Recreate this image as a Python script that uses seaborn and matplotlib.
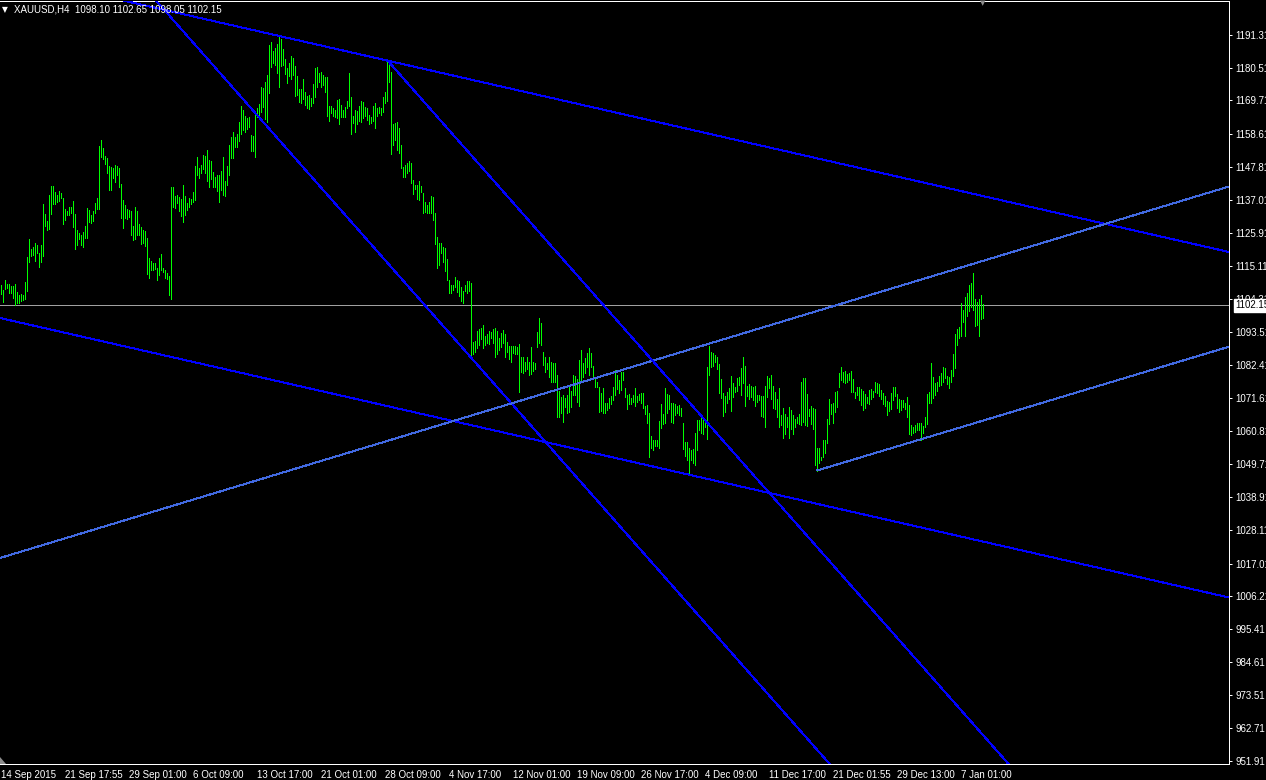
import matplotlib
matplotlib.use("Agg")
import matplotlib.pyplot as plt
import matplotlib.transforms as mtransforms
from matplotlib.patches import Polygon
import numpy as np
import pandas as pd
import seaborn as sns

# ---------------- data ----------------
symbol = "XAUUSD,H4"
last_bar = [1098.10, 1102.65, 1098.05, 1102.15]  # open, high, low, close of last bar
current_price = 1102.15

highs = [
    1108.9, 1107.3, 1110.5, 1109.2, 1109.2, 1108.6, 1108.6, 1109.2, 1106.5, 1105.7,
    1105.9, 1105.6, 1109.9, 1118.1, 1124.1, 1120.8, 1121.4, 1122.6, 1121.9, 1119.4,
    1122.0, 1135.6, 1132.3, 1130.1, 1138.6, 1141.5, 1141.5, 1139.6, 1138.6, 1139.9,
    1139.2, 1137.4, 1134.0, 1133.4, 1134.5, 1134.6, 1136.6, 1132.3, 1127.0, 1126.0,
    1125.4, 1126.5, 1128.2, 1134.2, 1133.6, 1131.9, 1133.2, 1135.9, 1137.6, 1154.7,
    1156.7, 1154.1, 1151.4, 1150.8, 1148.0, 1147.9, 1147.5, 1148.5, 1148.1, 1147.5,
    1142.2, 1136.9, 1135.3, 1134.0, 1133.6, 1133.3, 1128.4, 1134.6, 1133.3, 1129.0,
    1128.0, 1127.0, 1126.7, 1124.4, 1117.8, 1116.8, 1116.2, 1116.2, 1114.5, 1117.8,
    1119.1, 1114.5, 1113.8, 1112.9, 1111.9, 1141.2, 1141.2, 1138.2, 1138.6, 1137.9,
    1137.3, 1141.9, 1138.2, 1135.9, 1137.6, 1137.3, 1139.6, 1148.1, 1151.1, 1147.5,
    1148.5, 1151.8, 1151.4, 1153.4, 1150.1, 1149.8, 1146.2, 1144.5, 1145.2, 1145.2,
    1146.5, 1151.1, 1143.2, 1148.1, 1155.1, 1157.7, 1159.3, 1157.7, 1158.7, 1162.5,
    1167.9, 1166.6, 1164.6, 1163.8, 1164.2, 1158.2, 1158.0, 1165.7, 1167.1, 1168.6,
    1174.3, 1173.7, 1175.9, 1178.1, 1188.0, 1189.1, 1186.1, 1186.9, 1188.3, 1191.0,
    1189.9, 1186.6, 1183.3, 1180.3, 1182.2, 1184.4, 1183.6, 1181.1, 1177.8, 1173.4,
    1173.4, 1176.7, 1172.6, 1171.2, 1171.5, 1170.4, 1175.2, 1180.3, 1180.9, 1178.7,
    1179.2, 1178.1, 1177.4, 1177.6, 1167.9, 1167.9, 1167.1, 1166.6, 1169.9, 1170.1,
    1168.2, 1166.6, 1167.5, 1169.7, 1178.9, 1171.0, 1164.6, 1166.6, 1166.4, 1167.9,
    1169.7, 1169.3, 1167.5, 1167.1, 1164.9, 1164.2, 1167.9, 1168.8, 1167.1, 1167.5,
    1167.1, 1171.0, 1172.6, 1182.5, 1182.8, 1179.2, 1162.0, 1162.2, 1162.7, 1160.5,
    1155.0, 1147.7, 1148.4, 1149.0, 1149.9, 1149.2, 1143.5, 1141.9, 1141.9, 1143.0,
    1141.5, 1139.1, 1136.4, 1135.3, 1136.4, 1138.2, 1137.8, 1132.7, 1124.6, 1122.8,
    1122.6, 1121.3, 1121.0, 1117.3, 1110.5, 1108.9, 1108.9, 1111.4, 1110.5, 1110.3,
    1108.3, 1107.0, 1108.9, 1110.3, 1110.3, 1109.4, 1090.2, 1090.5, 1093.8, 1094.3,
    1094.6, 1095.7, 1092.1, 1092.7, 1093.8, 1093.5, 1094.3, 1094.6, 1093.8, 1091.3,
    1093.0, 1094.0, 1092.7, 1090.2, 1088.8, 1088.8, 1088.8, 1088.8, 1088.3, 1089.4,
    1085.0, 1085.0, 1083.6, 1085.0, 1083.6, 1088.3, 1083.6, 1083.0, 1093.5, 1097.9,
    1096.5, 1086.9, 1085.0, 1083.0, 1085.2, 1083.6, 1083.0, 1083.3, 1079.2, 1074.0,
    1071.8, 1072.6, 1071.5, 1072.6, 1075.1, 1074.0, 1079.2, 1078.9, 1077.8, 1084.1,
    1087.4, 1083.0, 1084.7, 1086.6, 1088.0, 1086.6, 1082.2, 1077.8, 1077.0, 1075.1,
    1073.2, 1074.8, 1070.1, 1070.1, 1071.5, 1072.3, 1075.3, 1080.9, 1079.2, 1077.6,
    1080.3, 1080.3, 1074.8, 1072.6, 1072.9, 1071.5, 1072.6, 1074.8, 1072.3, 1072.9,
    1073.4, 1073.4, 1069.0, 1069.3, 1066.5, 1059.1, 1057.8, 1057.8, 1057.8, 1064.1,
    1069.6, 1066.3, 1074.8, 1072.9, 1072.6, 1069.9, 1070.1, 1069.6, 1069.0, 1069.3,
    1068.2, 1063.5, 1057.2, 1057.2, 1055.0, 1054.5, 1054.7, 1060.0, 1064.4, 1064.4,
    1065.2, 1064.9, 1063.8, 1081.7, 1088.8, 1086.9, 1086.4, 1085.8, 1085.0, 1082.8,
    1077.8, 1073.2, 1072.3, 1073.7, 1074.8, 1078.9, 1076.7, 1075.1, 1078.1, 1078.4,
    1081.4, 1085.0, 1082.2, 1075.6, 1076.2, 1075.6, 1075.1, 1075.6, 1072.6, 1072.6,
    1072.3, 1072.3, 1075.6, 1078.9, 1078.1, 1079.2, 1075.6, 1073.7, 1071.2, 1074.8,
    1066.0, 1068.2, 1066.3, 1065.2, 1068.5, 1067.7, 1066.0, 1064.6, 1065.5, 1066.3,
    1077.0, 1078.1, 1078.1, 1072.9, 1067.9, 1069.0, 1068.2, 1067.9, 1055.0, 1055.0,
    1052.3, 1057.8, 1057.6, 1064.6, 1071.2, 1069.7, 1070.1, 1073.7, 1074.0, 1080.0,
    1081.7, 1080.3, 1080.6, 1079.5, 1080.0, 1080.6, 1077.8, 1073.7, 1075.4, 1075.1,
    1074.5, 1074.0, 1072.9, 1071.8, 1074.3, 1074.5, 1074.0, 1077.0, 1076.7, 1076.2,
    1074.3, 1073.4, 1072.3, 1070.7, 1070.4, 1073.4, 1075.4, 1075.1, 1072.9, 1071.2,
    1071.0, 1071.0, 1070.1, 1072.1, 1069.3, 1062.7, 1061.9, 1062.7, 1063.3, 1063.3,
    1063.5, 1062.4, 1065.5, 1072.9, 1073.7, 1083.0, 1078.4, 1076.7, 1077.0, 1078.9,
    1080.0, 1081.7, 1081.4, 1078.9, 1078.4, 1080.9, 1086.1, 1092.7, 1094.3, 1095.1,
    1102.8, 1100.6, 1104.8, 1106.3, 1108.9, 1109.6, 1112.7, 1104.2, 1103.4, 1104.2,
    1105.6, 1102.65,
]

lows = [
    1105.9, 1103.4, 1107.5, 1107.8, 1106.2, 1106.2, 1104.5, 1102.3, 1103.1, 1103.1,
    1103.7, 1104.0, 1104.3, 1106.9, 1116.6, 1118.5, 1118.8, 1116.9, 1119.3, 1114.9,
    1116.6, 1118.5, 1128.4, 1127.0, 1127.5, 1132.3, 1135.6, 1135.6, 1136.4, 1136.7,
    1137.6, 1129.0, 1130.3, 1132.0, 1132.1, 1132.5, 1128.0, 1120.9, 1122.0, 1124.1,
    1122.1, 1121.4, 1124.3, 1124.5, 1129.7, 1129.2, 1130.0, 1132.7, 1133.8, 1134.0,
    1151.2, 1150.3, 1148.8, 1145.9, 1140.2, 1140.2, 1144.0, 1142.7, 1145.1, 1141.3,
    1131.0, 1127.7, 1131.1, 1130.5, 1131.2, 1125.4, 1123.7, 1124.2, 1125.4, 1125.4,
    1122.4, 1122.7, 1121.8, 1112.5, 1111.2, 1113.8, 1113.8, 1114.2, 1110.5, 1112.2,
    1113.8, 1113.1, 1111.2, 1110.9, 1105.6, 1104.3, 1134.6, 1134.3, 1136.0, 1133.3,
    1131.6, 1129.7, 1132.0, 1133.6, 1134.6, 1135.6, 1136.3, 1136.9, 1145.2, 1144.2,
    1145.7, 1147.0, 1145.7, 1143.2, 1141.2, 1143.8, 1141.2, 1141.2, 1139.9, 1136.3,
    1140.2, 1138.6, 1138.2, 1141.9, 1145.2, 1150.8, 1150.8, 1154.5, 1154.5, 1156.2,
    1158.7, 1160.0, 1159.4, 1160.2, 1161.1, 1152.9, 1152.9, 1151.2, 1164.2, 1164.6,
    1166.0, 1167.7, 1163.5, 1162.7, 1172.3, 1180.9, 1182.0, 1181.4, 1178.9, 1174.1,
    1181.1, 1181.4, 1178.5, 1175.4, 1177.8, 1176.7, 1178.1, 1171.2, 1171.5, 1169.3,
    1168.8, 1170.1, 1168.2, 1167.1, 1166.8, 1167.9, 1169.0, 1171.0, 1174.3, 1175.9,
    1174.1, 1174.8, 1172.6, 1164.6, 1163.1, 1165.5, 1164.6, 1164.2, 1163.8, 1162.0,
    1164.2, 1164.2, 1164.2, 1167.1, 1167.9, 1158.6, 1162.2, 1159.4, 1162.0, 1163.1,
    1162.7, 1163.8, 1164.6, 1163.3, 1162.0, 1162.4, 1163.1, 1160.5, 1164.6, 1165.5,
    1164.9, 1166.0, 1168.8, 1169.5, 1175.9, 1152.1, 1155.0, 1156.7, 1153.4, 1152.3,
    1147.4, 1144.4, 1144.4, 1145.7, 1146.3, 1142.4, 1138.9, 1140.4, 1137.1, 1136.9,
    1139.7, 1132.5, 1133.1, 1132.5, 1132.7, 1132.5, 1130.3, 1122.4, 1114.4, 1115.5,
    1119.5, 1116.6, 1113.6, 1110.5, 1106.1, 1106.1, 1107.2, 1108.1, 1106.7, 1105.3,
    1103.7, 1102.8, 1107.0, 1106.1, 1107.0, 1085.2, 1086.1, 1086.9, 1088.0, 1089.1,
    1091.0, 1088.0, 1089.1, 1089.9, 1089.4, 1091.3, 1089.9, 1085.0, 1086.1, 1087.4,
    1088.3, 1089.9, 1085.0, 1086.9, 1084.4, 1083.6, 1086.6, 1086.1, 1086.1, 1073.7,
    1080.3, 1080.0, 1080.6, 1081.1, 1079.2, 1079.5, 1080.6, 1081.1, 1088.5, 1089.9,
    1089.1, 1082.5, 1080.3, 1081.1, 1078.6, 1077.0, 1077.0, 1077.0, 1065.2, 1065.2,
    1066.5, 1063.8, 1068.8, 1066.5, 1067.1, 1068.8, 1072.6, 1072.6, 1070.4, 1069.0,
    1077.6, 1078.6, 1079.7, 1081.7, 1079.2, 1081.9, 1078.1, 1075.3, 1075.3, 1067.1,
    1067.4, 1066.5, 1066.8, 1067.7, 1068.2, 1069.6, 1071.0, 1072.6, 1074.5, 1073.4,
    1074.3, 1077.6, 1071.8, 1067.9, 1069.6, 1069.6, 1070.4, 1069.0, 1070.4, 1071.0,
    1070.1, 1068.2, 1066.3, 1063.5, 1052.3, 1055.0, 1054.5, 1055.8, 1055.8, 1055.0,
    1061.6, 1063.0, 1063.3, 1066.8, 1067.9, 1063.8, 1063.3, 1066.0, 1066.8, 1066.0,
    1065.7, 1054.7, 1052.5, 1051.2, 1046.2, 1051.0, 1050.1, 1049.5, 1054.3, 1061.1,
    1060.2, 1059.8, 1062.2, 1058.0, 1079.2, 1081.7, 1082.2, 1083.6, 1081.1, 1073.4,
    1071.5, 1065.7, 1067.1, 1069.9, 1071.2, 1067.4, 1071.8, 1073.7, 1074.0, 1075.9,
    1072.6, 1076.7, 1069.0, 1072.3, 1071.2, 1071.8, 1071.0, 1069.0, 1070.4, 1071.0,
    1065.7, 1065.5, 1062.1, 1071.8, 1074.8, 1071.2, 1068.2, 1067.9, 1065.2, 1062.1,
    1062.7, 1058.3, 1059.7, 1062.1, 1058.3, 1061.3, 1059.7, 1062.0, 1063.3, 1063.0,
    1062.7, 1063.8, 1062.7, 1062.4, 1065.7, 1063.0, 1061.3, 1049.5, 1047.7, 1050.1,
    1051.0, 1052.1, 1053.6, 1056.9, 1063.0, 1066.3, 1063.5, 1067.1, 1068.8, 1075.1,
    1077.6, 1077.0, 1076.5, 1077.0, 1077.6, 1073.7, 1073.7, 1071.5, 1072.6, 1071.0,
    1069.3, 1067.7, 1068.2, 1069.9, 1069.6, 1071.2, 1072.0, 1073.7, 1073.2, 1072.3,
    1071.2, 1069.6, 1069.0, 1066.0, 1067.4, 1067.9, 1071.0, 1072.3, 1068.2, 1067.1,
    1067.7, 1068.5, 1067.9, 1065.5, 1059.7, 1059.4, 1060.0, 1060.5, 1060.9, 1060.9,
    1057.8, 1060.2, 1062.0, 1063.0, 1070.1, 1070.1, 1071.5, 1072.6, 1074.0, 1075.6,
    1075.9, 1077.0, 1078.1, 1076.2, 1074.8, 1077.0, 1078.7, 1081.4, 1089.1, 1091.3,
    1092.1, 1096.8, 1092.1, 1098.7, 1100.4, 1101.5, 1100.6, 1095.4, 1095.7, 1092.1,
    1097.6, 1098.05,
]

x_tick_bars = [0, 32, 64, 96, 128, 160, 192, 224, 256, 288, 320, 352, 384, 416, 448, 480]
x_tick_labels = ["14 Sep 2015", "21 Sep 17:55", "29 Sep 01:00", "6 Oct 09:00",
                 "13 Oct 17:00", "21 Oct 01:00", "28 Oct 09:00", "4 Nov 17:00",
                 "12 Nov 01:00", "19 Nov 09:00", "26 Nov 17:00", "4 Dec 09:00",
                 "11 Dec 17:00", "21 Dec 01:55", "29 Dec 13:00", "7 Jan 01:00"]
y_tick_values = [1191.31, 1180.51, 1169.71, 1158.61, 1147.81, 1137.01, 1125.91,
                 1115.11, 1104.31, 1093.51, 1082.41, 1071.61, 1060.81, 1049.71,
                 1038.91, 1028.11, 1017.01, 1006.21, 995.41, 984.61, 973.51,
                 962.71, 951.91]

# trend lines: anchor points (bar index, price)
down_lines = [((139, 1191.0), (614, 1119.75)),
              ((119.5, 1171.29), (413, 951.91)),
              ((-0.5, 1097.99), (614, 1005.82))]
down_ray = ((193.5, 1182.74), (502, 952.24))
up_lines = [((-0.5, 1018.85), (614, 1141.35))]
up_ray = ((408, 1047.70), (614, 1088.53))

assert len(highs) == len(lows)

# ---------------- styling ----------------
sns.set_theme(style="dark", rc={"axes.facecolor": "black", "figure.facecolor": "black",
                                "savefig.facecolor": "black"})
plt.rcParams["font.family"] = ["Liberation Sans", "DejaVu Sans"]

W, H = 1266, 780
fig = plt.figure(figsize=(W / 100, H / 100), dpi=100, facecolor="black")
ax = fig.add_axes([0, 16 / H, 1229 / W, 763 / H])
ax.set_facecolor("black")
XMIN, XMAX = -0.5, 614
ax.set_xlim(XMIN, XMAX)
ax.set_ylim(950.92, 1202.52)

GREEN = "#00ff00"
BLUE = "#0000ff"
ROYAL = "#4169e1"
LW = 0.72

# bars (high-low vertical lines)
n = len(highs)
idx = np.arange(n)
bars = pd.DataFrame({"bar": idx, "high": highs, "low": lows})
ax.vlines(bars["bar"], bars["low"], bars["high"], colors=GREEN, linewidth=LW,
          antialiased=False, zorder=3)


def extend(p1, p2, x0, x1):
    (a, b), (c, d) = p1, p2
    s = (d - b) / (c - a)
    return [x0, x1], [b + s * (x0 - a), b + s * (x1 - a)]


TLW = 0.72
for p1, p2 in down_lines:
    xs, ys = extend(p1, p2, XMIN, XMAX)
    sns.lineplot(x=xs, y=ys, color=BLUE, linewidth=TLW, antialiased=False, ax=ax, zorder=4)
for p1, p2 in up_lines:
    xs, ys = extend(p1, p2, XMIN, XMAX)
    sns.lineplot(x=xs, y=ys, color=ROYAL, linewidth=TLW, antialiased=False, ax=ax, zorder=4)
xs, ys = extend(down_ray[0], down_ray[1], down_ray[0][0], XMAX)
sns.lineplot(x=xs, y=ys, color=BLUE, linewidth=TLW, antialiased=False, ax=ax, zorder=4)
xs, ys = extend(up_ray[0], up_ray[1], up_ray[0][0], XMAX)
sns.lineplot(x=xs, y=ys, color=ROYAL, linewidth=TLW, antialiased=False, ax=ax, zorder=4)

# current price line
ax.axhline(current_price, color="#a0a0a0", linewidth=LW, antialiased=False, zorder=2)

# axes cosmetics
ax.grid(False)
ax.set_xlabel("")
ax.set_ylabel("")
for side in ["top", "right", "bottom"]:
    ax.spines[side].set_visible(True)
    ax.spines[side].set_color("white")
    ax.spines[side].set_linewidth(LW)
ax.spines["left"].set_visible(False)

ax.yaxis.tick_right()
ax.set_yticks(y_tick_values)
ax.set_yticklabels([f"{v:.2f}" for v in y_tick_values])
ax.tick_params(axis="y", which="both", colors="white", direction="out", length=2.5,
               width=LW, pad=2, labelsize=7, left=False, right=True,
               labelleft=False, labelright=True)
ax.set_xticks(x_tick_bars)
ax.set_xticklabels(x_tick_labels, ha="left")
ax.tick_params(axis="x", colors="white", direction="out", length=3, width=LW,
               pad=1, labelsize=7)

# current price tag on the price scale
trans = mtransforms.blended_transform_factory(ax.transAxes, ax.transData)
ax.text(1 + 6 / 1229, current_price, f"{current_price:.2f}", transform=trans,
        ha="left", va="center", fontsize=7, color="black", clip_on=False, zorder=10,
        bbox=dict(boxstyle="square,pad=0.12", fc="white", ec="white"))

# header
fig.text(5 / W, 1 - 10 / H, "▼", color="white", fontsize=5.5, ha="center",
         va="center", family=["DejaVu Sans"])
header = f"{symbol}  " + " ".join(f"{v:.2f}" for v in last_bar)
fig.text(14 / W, 1 - 10 / H, header, color="white", fontsize=7, ha="left", va="center")
# chart shift markers
fig.text(983 / W, 1 - 3 / H, "▼", color="#8c8c8c", fontsize=5, ha="center",
         va="center", family=["DejaVu Sans"])
fig.patches.append(Polygon([[0, 1 - 757 / H], [0, 1 - 764 / H], [6 / W, 1 - 764 / H]],
                           closed=True, transform=fig.transFigure, facecolor="#8c8c8c",
                           edgecolor="none", figure=fig))

fig.savefig("out.png", dpi=100, facecolor="black")
